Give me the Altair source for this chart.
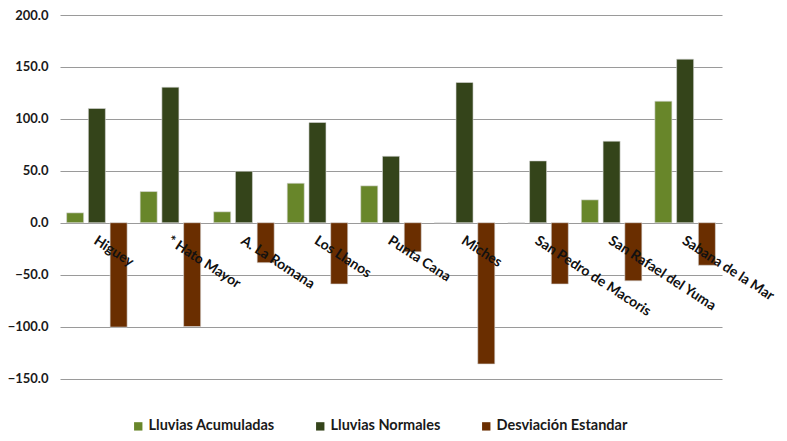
import altair as alt
import pandas as pd

categories = ["Higuey", "* Hato Mayor", "A. La Romana", "Los Llanos", "Punta Cana",
              "Miches", "San Pedro de Macoris", "San Rafael del Yuma", "Sabana de la Mar"]
acumuladas = [9.5, 30.0, 10.5, 38.0, 35.5, 0.0, 0.0, 22.0, 117.0]
normales = [110.0, 130.5, 49.5, 96.5, 64.0, 135.0, 59.5, 78.5, 157.5]
desviacion = [-100.5, -100.0, -38.5, -59.0, -28.0, -136.0, -59.0, -56.0, -41.0]

series = ["Lluvias Acumuladas", "Lluvias Normales", "Desviación Estandar"]
colors = ["#68862A", "#34441A", "#6A2E00"]
y_ticks = [-150, -100, -50, 0, 50, 100, 150, 200]

rows = []
for i, c in enumerate(categories):
    for s, vals in zip(series, [acumuladas, normales, desviacion]):
        rows.append({"categoria": c, "serie": s, "valor": vals[i]})
df = pd.DataFrame(rows)
labels_df = pd.DataFrame({"categoria": categories, "valor": [0.0] * len(categories)})

FONT = "Lato"

x_enc = alt.X("categoria:N", sort=categories,
              scale=alt.Scale(paddingInner=0.177, paddingOuter=0.09), axis=None)
y_scale = alt.Scale(domain=[-150, 200], nice=False, zero=False)

bars = alt.Chart(df).mark_bar(stroke="#d8d8d8", strokeWidth=0.6).encode(
    x=x_enc,
    xOffset=alt.XOffset("serie:N", sort=series, scale=alt.Scale(paddingInner=0.217, paddingOuter=0)),
    y=alt.Y("valor:Q", scale=y_scale,
            axis=alt.Axis(values=y_ticks, format=".1f", title=None, domain=False, ticks=False,
                          grid=True, gridColor="#9a9a9a", gridWidth=1.2, labelPadding=12,
                          labelFont=FONT, labelFontSize=13, labelFontWeight="bold",
                          labelColor="#1a1a1a")),
    color=alt.Color("serie:N", sort=series,
                    scale=alt.Scale(domain=series, range=colors),
                    legend=alt.Legend(title=None, orient="none", legendX=71, legendY=404,
                                      direction="horizontal", columns=3, columnPadding=38,
                                      symbolType="square", symbolSize=70, symbolStrokeWidth=0,
                                      labelFont=FONT, labelFontSize=14.5, labelFontWeight="bold",
                                      labelColor="#1a1a1a", labelOffset=3)),
)

labels = alt.Chart(labels_df).mark_text(
    angle=33, align="left", baseline="top", yOffset=11, xOffset=2,
    font=FONT, fontSize=14, fontWeight="bold", color="#111111"
).encode(
    x=x_enc,
    y=alt.Y("valor:Q", scale=y_scale),
    text="categoria:N",
)

chart = alt.layer(bars, labels).properties(
    width=662, height=363.5,
    autosize=alt.AutoSizeParams(type="none"),
    padding={"left": 52, "top": 7, "right": 57, "bottom": 55},
).configure_view(stroke=None)

chart.save("out.html", embed_options={"renderer": "svg", "actions": False})
